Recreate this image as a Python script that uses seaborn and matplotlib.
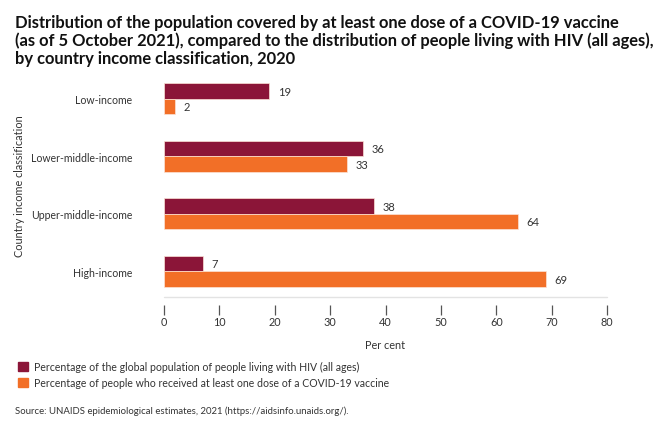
import matplotlib
matplotlib.use("Agg")
import matplotlib.pyplot as plt
import matplotlib.patches as mpatches
import pandas as pd
import seaborn as sns

categories = ["Low-income", "Lower-middle-income", "Upper-middle-income", "High-income"]
hiv_share = [19, 36, 38, 7]
covid_share = [2, 33, 64, 69]
series_names = [
    "Percentage of the global population of people living with HIV (all ages)",
    "Percentage of people who received at least one dose of a COVID-19 vaccine",
]
x_ticks = [0, 10, 20, 30, 40, 50, 60, 70, 80]

hiv_color = "#8b1538"
covid_color = "#f26f27"
text_color = "#333333"

df = pd.DataFrame({
    "category": categories * 2,
    "value": hiv_share + covid_share,
    "series": [series_names[0]] * 4 + [series_names[1]] * 4,
})

sns.set_theme(style="white")
plt.rcParams["font.family"] = ["Lato", "DejaVu Sans"]

fig = plt.figure(figsize=(6.7, 4.31), dpi=100)
ax = fig.add_axes([0.2448, 0.3086, 0.6612, 0.5194])

sns.barplot(data=df, x="value", y="category", hue="series", orient="h",
            palette=[hiv_color, covid_color], saturation=1, width=0.54, gap=0,
            edgecolor="#fbe3d6", linewidth=0.5, legend=False, ax=ax)

for cont in ax.containers:
    ax.bar_label(cont, padding=6, fontsize=8, color=text_color)

ax.set_xlim(0, 80)
ax.set_xticks(x_ticks)
ax.set_xlabel("Per cent", fontsize=7.8, color=text_color, labelpad=8)
ax.set_ylabel("")
fig.text(20 / 670, 0.568, "Country income classification", rotation=90,
         fontsize=7.8, color=text_color, ha="center", va="center")

for s in ["top", "right", "left"]:
    ax.spines[s].set_visible(False)
ax.spines["bottom"].set_color("none")
ax.spines["bottom"].set_position(("outward", 6))
ax.plot([0, 80], [0, 0], transform=ax.get_xaxis_transform(), color="#e3e3e3",
        linewidth=1, clip_on=False)

ax.tick_params(axis="x", bottom=True, length=7, width=0.9, color="#555555",
               labelsize=7.8, labelcolor=text_color, pad=1)
ax.tick_params(axis="y", left=False, labelsize=7.6, labelcolor=text_color, pad=17)

fig.text(0.022, 0.965,
         "Distribution of the population covered by at least one dose of a COVID-19 vaccine\n"
         "(as of 5 October 2021), compared to the distribution of people living with HIV (all ages),\n"
         "by country income classification, 2020",
         fontsize=11.9, fontweight="bold", color="#111111", va="top", ha="left",
         linespacing=1.12)

handles = [mpatches.Patch(color=hiv_color, label=series_names[0]),
           mpatches.Patch(color=covid_color, label=series_names[1])]
fig.legend(handles=handles, loc="upper left", bbox_to_anchor=(0.012, 0.182),
           frameon=False, fontsize=7.6, handlelength=1.0, handleheight=1.0,
           handletextpad=0.6, labelspacing=0.5, labelcolor=text_color)

fig.text(0.022, 0.046, "Source: UNAIDS epidemiological estimates, 2021 (https://aidsinfo.unaids.org/).",
         fontsize=6.9, color=text_color, va="center", ha="left")

fig.savefig("out.png", dpi=100)
